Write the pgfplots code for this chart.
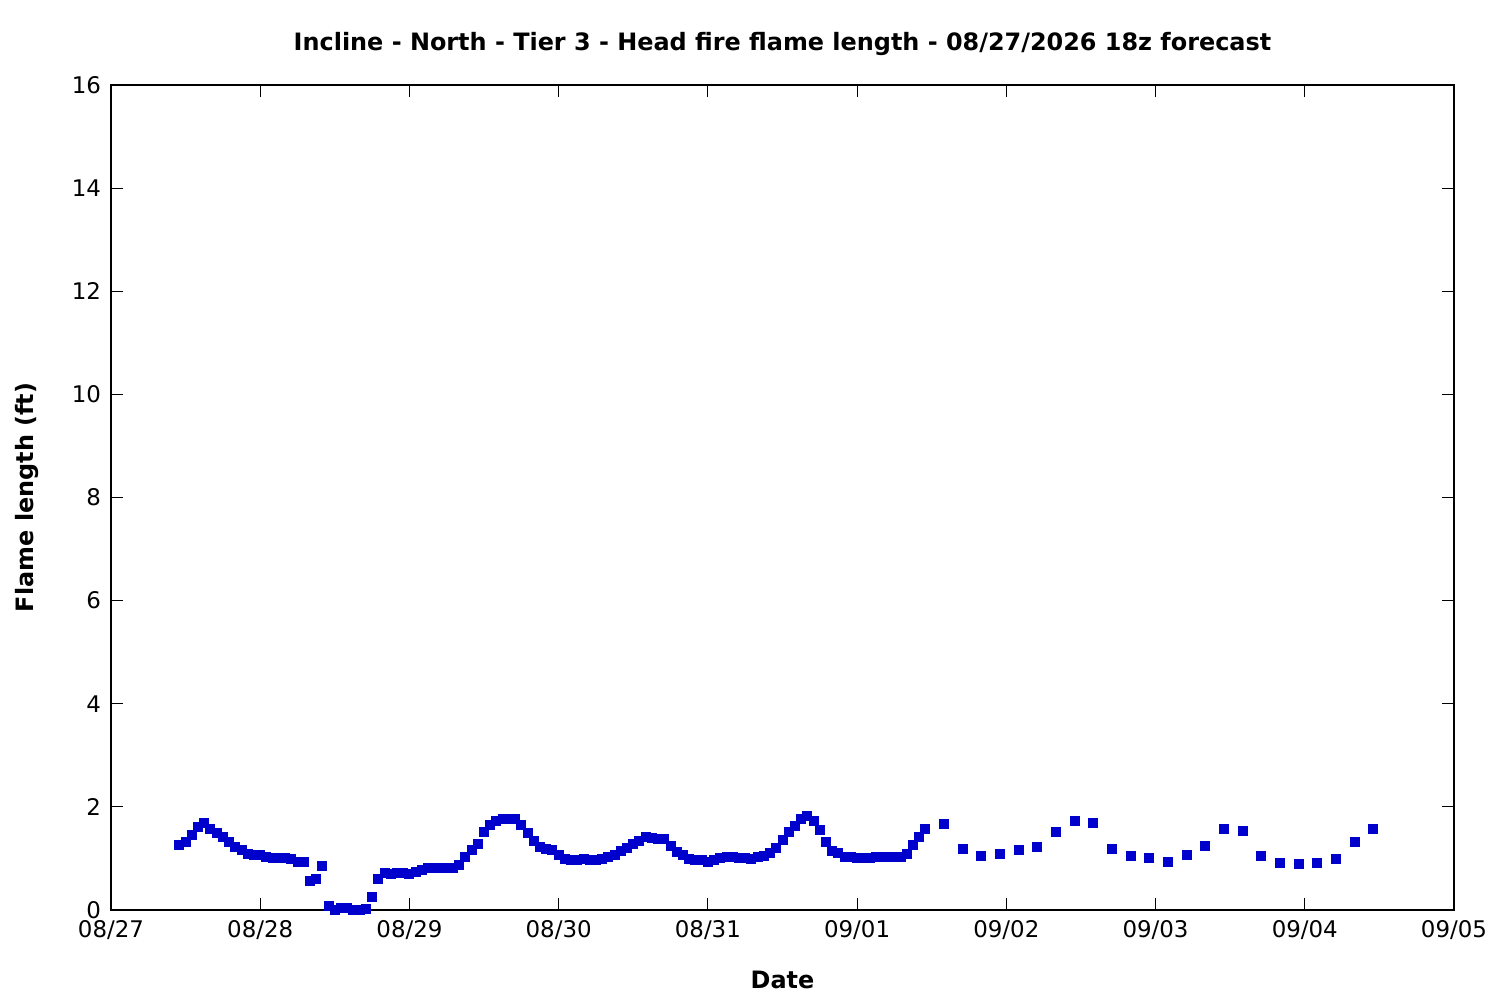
\documentclass[border=0pt]{standalone}
\usepackage{fontspec}
\setmainfont{DejaVu Sans}
\usepackage{pgfplots}
\usepackage{pgfplotstable}
\pgfplotsset{compat=1.18}
\definecolor{ptblue}{RGB}{0,0,204}
\pgfplotstableread{
h v
11 1.27
12 1.31
13 1.45
14 1.60
15 1.69
16 1.58
17 1.49
18 1.41
19 1.31
20 1.22
21 1.16
22 1.08
23 1.06
24 1.06
25 1.02
26 1.00
27 1.00
28 1.00
29 0.98
30 0.94
31 0.94
32 0.56
33 0.60
34 0.85
35 0.08
36 0.00
37 0.03
38 0.03
39 0.00
40 0.00
41 0.02
42 0.25
43 0.61
44 0.71
45 0.69
46 0.71
47 0.71
48 0.69
49 0.74
50 0.77
51 0.81
52 0.81
53 0.81
54 0.81
55 0.81
56 0.87
57 1.02
58 1.16
59 1.28
60 1.51
61 1.65
62 1.73
63 1.76
64 1.76
65 1.76
66 1.65
67 1.49
68 1.34
69 1.23
70 1.18
71 1.16
72 1.06
73 0.99
74 0.96
75 0.96
76 0.99
77 0.96
78 0.96
79 0.99
80 1.03
81 1.07
82 1.15
83 1.20
84 1.28
85 1.34
86 1.42
87 1.39
88 1.37
89 1.37
90 1.24
91 1.12
92 1.07
93 0.99
94 0.96
95 0.96
96 0.94
97 0.97
98 1.01
99 1.03
100 1.03
101 1.00
102 1.00
103 0.98
104 1.02
105 1.05
106 1.11
107 1.20
108 1.35
109 1.51
110 1.63
111 1.76
112 1.82
113 1.73
114 1.56
115 1.31
116 1.14
117 1.10
118 1.03
119 1.03
120 1.01
121 1.01
122 1.01
123 1.03
124 1.03
125 1.03
126 1.03
127 1.03
128 1.09
129 1.26
130 1.42
131 1.58
134 1.66
137 1.18
140 1.04
143 1.08
146 1.16
149 1.22
152 1.51
155 1.72
158 1.68
161 1.18
164 1.04
167 1.00
170 0.94
173 1.06
176 1.25
179 1.57
182 1.53
185 1.04
188 0.92
191 0.89
194 0.92
197 0.98
200 1.31
203 1.57
}\flamedata
\begin{document}
\fontsize{11.5}{14}\selectfont
\begin{tikzpicture}
\path[use as bounding box] (-55.5bp,-45bp) rectangle (694.5bp,455bp);
\begin{axis}[
  at={(0,0)}, anchor=south west,
  scale only axis,
  width=671.5bp, height=412.5bp,
  xmin=0, xmax=9, ymin=0, ymax=16,
  xtick={0,1,2,3,4,5,6,7,8,9},
  xticklabels={08/27,08/28,08/29,08/30,08/31,09/01,09/02,09/03,09/04,09/05},
  ytick={0,2,4,6,8,10,12,14,16},
  minor tick num=0,
  tick pos=both,
  tick align=inside,
  major tick length=6bp,
  axis line style={line width=0.6bp},
  every tick/.style={black, line width=0.6bp},
  /pgf/number format/assume math mode=true,
  tick label style={font=\fontsize{11.5}{14}\selectfont},
  xticklabel style={yshift=-1bp},
  yticklabel style={xshift=-1bp},
  title={\textbf{Incline - North - Tier 3 - Head fire flame length - 08/27/2026 18z forecast}},
  title style={font=\fontsize{12}{14}\selectfont, at={(axis description cs:0.5,1)}, anchor=center, yshift=14.5bp},
  xlabel={\textbf{Date}},
  ylabel={\textbf{Flame length (ft)}},
  label style={font=\fontsize{12}{14}\selectfont},
  xlabel style={at={(axis description cs:0.5,0)}, anchor=center, yshift=-35bp},
  ylabel style={at={(axis description cs:-0.0625,0.5)}, anchor=center},
  clip=false,
]
\addplot[only marks, mark=square*, mark size=2.25bp, color=ptblue, mark options={draw=ptblue, fill=ptblue, line width=0pt}]
  table[x expr=\thisrow{h}/24, y=v] {\flamedata};
\end{axis}
\end{tikzpicture}
\end{document}
